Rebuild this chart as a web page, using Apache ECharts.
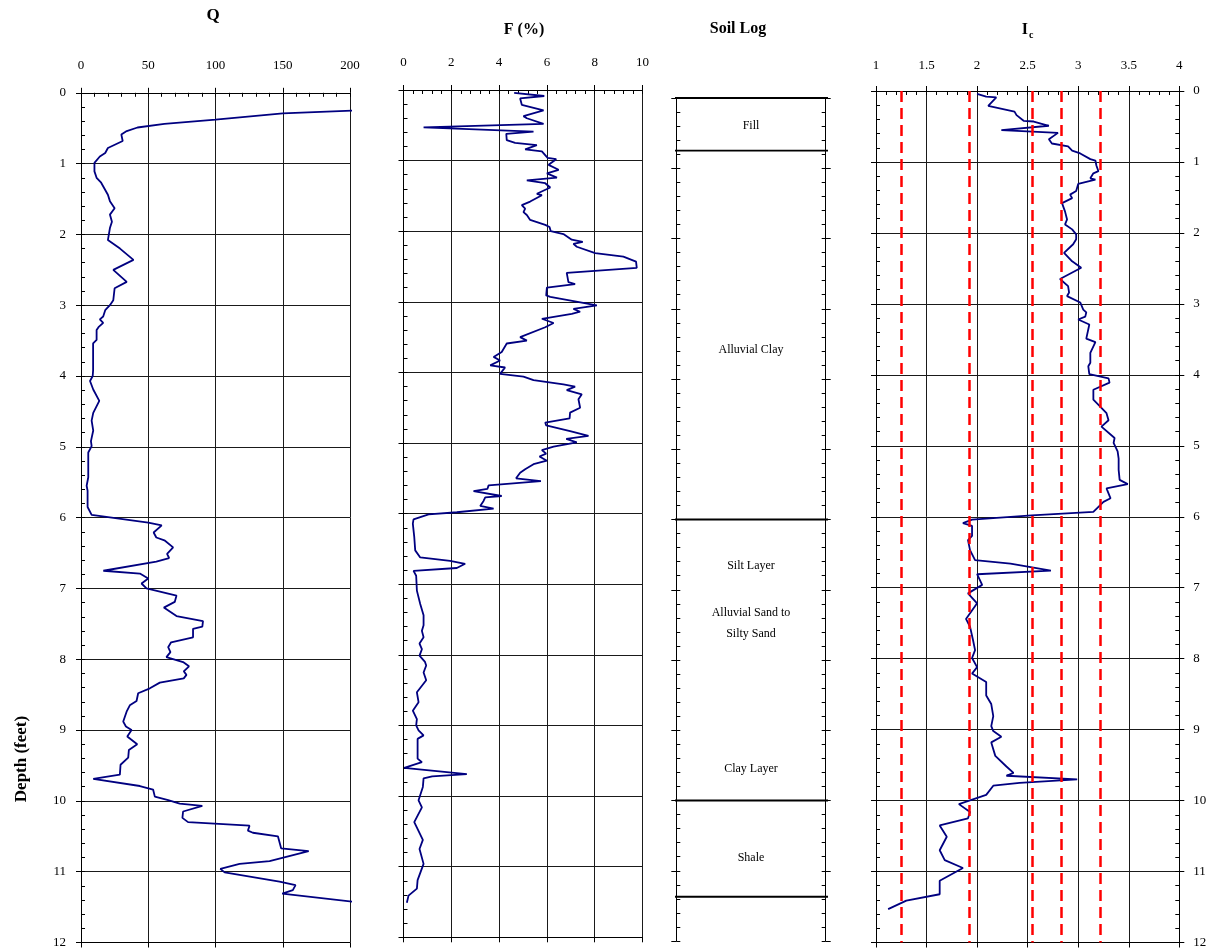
<!DOCTYPE html>
<html><head><meta charset="utf-8">
<script src="https://cdn.jsdelivr.net/npm/echarts@6/dist/echarts.min.js"></script>
<style>html,body{margin:0;padding:0;background:#fff}#c{width:1225px;height:951px}</style>
</head><body><div id="c"></div>
<script>
// ---------- DATA ----------
// Q profile: [depth (ft), Q]
const qProfile = [
[0.25,205],[0.29,150],[0.38,100],[0.44,62],[0.49,42],[0.54,34],[0.59,30],[0.68,31],[0.78,20],[0.85,18],
[0.90,14],[0.99,10],[1.11,10],[1.20,11.6],[1.27,15],[1.44,20],[1.53,21.5],[1.63,25],[1.72,21.5],[1.82,23],
[1.91,21.5],[2.08,20],[2.20,29],[2.36,39],[2.50,24],[2.67,34],[2.76,25],[2.93,24],[3.00,21.5],[3.07,18],
[3.16,16.5],[3.20,14],[3.25,16.5],[3.31,13],[3.35,11.6],[3.49,11.6],[3.54,9],[3.83,9],[3.85,8],[3.92,9],
[4.00,8.7],[4.07,6.7],[4.19,9.1],[4.35,13.6],[4.52,9.1],[4.63,7.9],[4.77,9.1],[4.92,7.4],[4.99,7.9],[5.08,5.4],
[5.43,5.4],[5.55,4.2],[5.62,4.9],[5.85,4.9],[5.96,7.9],[6.07,50],[6.11,60],[6.21,54],[6.28,56],[6.32,62],
[6.42,68.5],[6.51,64],[6.57,65.5],[6.62,56],[6.75,16.6],[6.79,43.8],[6.86,50],[6.93,45],[7.00,48.7],[7.10,71],
[7.19,69.7],[7.27,61.6],[7.39,71],[7.46,90.7],[7.54,90.2],[7.57,83.3],[7.69,83.3],[7.76,67],[7.83,64.8],[7.90,66.5],
[7.97,63.5],[8.04,75.9],[8.10,80.3],[8.17,76.4],[8.22,78.4],[8.27,76.4],[8.33,58.6],[8.41,51.2],[8.48,42.5],[8.59,41.3],
[8.65,36.3],[8.74,33.9],[8.88,31.4],[8.95,33.4],[9.00,37.6],[9.09,34.4],[9.20,41.8],[9.28,35.6],[9.39,35.1],[9.49,29.4],
[9.63,28.9],[9.69,9.1],[9.79,43.8],[9.84,53.6],[9.94,54.9],[9.99,64.8],[10.04,73.4],[10.07,90.2],[10.15,75.9],[10.24,75.4],
[10.30,79.6],[10.35,125.3],[10.42,124.1],[10.45,127.8],[10.50,146.4],[10.67,148.8],[10.71,169.3],[10.85,140.2],[10.89,117.9],[10.96,103.6],
[11.01,106.8],[11.14,147.6],[11.19,159.5],[11.26,157.5],[11.31,149.6],[11.43,205.2]
];
// F (%) profile: [depth (ft), F]
const fProfile = [
[0.04,4.63],[0.085,5.89],[0.12,4.88],[0.21,4.95],[0.29,5.86],[0.37,5.02],[0.40,5.16],[0.48,5.86],[0.53,0.84],[0.59,5.44],
[0.62,4.30],[0.71,4.32],[0.75,4.67],[0.78,5.58],[0.84,5.09],[0.87,5.79],[0.96,6.03],[0.98,6.39],[1.06,6.07],[1.13,6.49],
[1.18,6.0],[1.24,6.42],[1.28,5.16],[1.32,5.93],[1.38,6.14],[1.47,5.58],[1.49,5.79],[1.58,5.3],[1.63,4.95],[1.68,5.09],
[1.73,5.02],[1.77,5.16],[1.84,5.3],[1.91,5.93],[1.94,6.11],[2.00,6.16],[2.04,6.69],[2.12,7.04],[2.15,7.5],[2.18,7.11],
[2.22,7.25],[2.31,8.02],[2.36,9.2],[2.43,9.73],[2.52,9.76],[2.59,6.83],[2.72,6.9],[2.75,7.18],[2.80,6.0],[2.91,5.97],
[2.93,6.14],[3.05,8.09],[3.10,7.11],[3.14,7.39],[3.17,7.04],[3.24,5.79],[3.30,6.28],[3.36,5.93],[3.50,4.88],[3.55,5.16],
[3.59,4.32],[3.71,4.11],[3.78,3.77],[3.83,4.04],[3.90,3.63],[3.93,4.25],[4.02,4.04],[4.06,5.02],[4.11,5.44],[4.17,6.69],
[4.20,7.18],[4.25,6.83],[4.31,7.46],[4.38,7.32],[4.50,7.39],[4.57,6.97],[4.65,6.95],[4.71,5.93],[4.75,5.97],[4.83,6.97],
[4.90,7.74],[4.94,6.81],[4.99,7.25],[5.05,6.28],[5.10,5.79],[5.15,5.97],[5.19,5.69],[5.25,6.0],[5.30,5.44],[5.37,5.09],
[5.42,4.88],[5.50,4.71],[5.54,5.75],[5.60,3.56],[5.65,3.51],[5.68,2.93],[5.75,4.11],[5.77,3.42],[5.82,3.35],[5.89,3.21],
[5.93,3.77],[5.98,2.23],[6.01,1.05],[6.08,0.42],[6.14,0.39],[6.33,0.45],[6.52,0.49],[6.62,0.70],[6.67,1.95],[6.71,2.58],
[6.77,2.23],[6.81,0.42],[6.88,0.53],[7.09,0.56],[7.28,0.70],[7.44,0.84],[7.58,0.84],[7.66,0.77],[7.75,0.84],[7.84,0.67],
[7.92,0.77],[8.01,0.67],[8.10,0.90],[8.15,0.95],[8.25,0.84],[8.36,0.95],[8.53,0.56],[8.67,0.63],[8.79,0.39],[8.91,0.56],
[9.00,0.53],[9.07,0.63],[9.14,0.84],[9.19,0.59],[9.47,0.59],[9.52,0.77],[9.60,0.03],[9.69,2.65],[9.72,1.2],[9.75,0.84],
[9.87,0.81],[10.06,0.63],[10.16,0.77],[10.37,0.45],[10.62,0.81],[10.75,0.67],[10.96,0.84],[11.19,0.59],[11.31,0.56],[11.41,0.21],
[11.51,0.14]
];
// Ic profile: [depth (ft), Ic]
const icProfile = [
[0.04,2.0],[0.08,2.09],[0.09,2.19],[0.21,2.11],[0.29,2.37],[0.34,2.39],[0.42,2.46],[0.43,2.56],[0.49,2.71],[0.55,2.24],
[0.59,2.80],[0.68,2.71],[0.74,2.74],[0.78,2.90],[0.84,2.94],[0.88,3.02],[0.96,3.12],[0.98,3.17],[1.05,3.18],[1.13,3.20],
[1.16,3.15],[1.23,3.12],[1.25,3.17],[1.31,3.00],[1.41,2.98],[1.46,2.92],[1.51,2.94],[1.58,2.84],[1.70,2.87],[1.81,2.89],
[1.88,2.87],[1.95,2.94],[2.02,2.98],[2.09,2.98],[2.16,2.95],[2.28,2.86],[2.40,2.94],[2.49,3.03],[2.65,2.82],[2.75,2.90],
[2.84,2.91],[2.89,2.89],[2.98,3.02],[3.08,3.05],[3.12,3.08],[3.18,3.07],[3.22,3.00],[3.29,3.11],[3.49,3.08],[3.54,3.17],
[3.69,3.12],[3.83,3.12],[3.88,3.10],[3.99,3.11],[4.05,3.30],[4.11,3.31],[4.21,3.15],[4.35,3.15],[4.45,3.22],[4.54,3.28],
[4.64,3.30],[4.73,3.23],[4.89,3.36],[4.96,3.35],[5.08,3.39],[5.18,3.40],[5.34,3.40],[5.48,3.41],[5.54,3.49],[5.60,3.28],
[5.74,3.32],[5.79,3.25],[5.93,3.15],[5.98,2.54],[6.04,1.95],[6.09,1.86],[6.13,1.95],[6.27,1.95],[6.33,1.91],[6.47,1.93],
[6.61,1.98],[6.66,2.33],[6.76,2.73],[6.81,2.00],[6.96,2.05],[7.08,1.91],[7.22,2.00],[7.44,1.89],[7.55,1.93],[7.74,1.96],
[7.88,1.98],[7.99,1.95],[8.12,2.00],[8.21,1.95],[8.33,2.09],[8.52,2.09],[8.64,2.14],[8.81,2.16],[8.95,2.14],[9.02,2.16],
[9.10,2.24],[9.18,2.14],[9.37,2.18],[9.52,2.29],[9.61,2.36],[9.65,2.29],[9.70,2.99],[9.75,2.42],[9.79,2.16],[9.92,2.09],
[10.05,1.82],[10.16,1.93],[10.25,1.91],[10.35,1.63],[10.51,1.70],[10.70,1.63],[10.84,1.68],[10.95,1.86],[11.13,1.63],[11.32,1.63],
[11.41,1.30],[11.53,1.12]
];
// Ic soil-behaviour boundaries (red dashed lines)
const icBoundaries = [1.25, 1.92, 2.55, 2.83, 3.22];
// Soil log
const layerBoundaries = [0, 0.75, 6.0, 10.0, 11.37];
const layerNames = ['Fill', 'Alluvial Clay', 'Silt Layer', 'Alluvial Sand to\nSilty Sand', 'Clay Layer', 'Shale'];
const layerLabelDepths = [0.40, 3.59, 6.66, 7.48, 9.55, 10.82];
// Axis ranges / tick labels
const depthRange = [0, 12, 1];
const qRange = [0, 200, 50];
const fRange = [0, 10, 2];
const icRange = [1, 4, 0.5];

// ---------- CHART ----------
const FONT = '"Liberation Serif", "Times New Roman", serif';
const INK = '#000';
const GRID_LINE = '#1a1a1a';

const grids = [
  { left: 81, top: 92.8, width: 269, height: 849.7 },     // Q
  { left: 403.5, top: 90, width: 239, height: 847.3 },    // F
  { left: 676.3, top: 98, width: 149.4, height: 843 },    // Soil log
  { left: 876, top: 91, width: 303.3, height: 851.5 }     // Ic
];

const xAxes = [], yAxes = [];
function addX(a) { xAxes.push(a); return xAxes.length - 1; }
function addY(a) { yAxes.push(a); return yAxes.length - 1; }

function topAxes(gridIndex, range, minorSplit, labelMargin) {
  const [min, max, interval] = range;
  const main = addX({ gridIndex, type: 'value', position: 'top', min, max, interval,
    axisLine: { show: true, onZero: false, lineStyle: { color: INK, width: 1 } },
    axisTick: { show: true, inside: false, length: 5, lineStyle: { color: INK } },
    axisLabel: { show: true, margin: labelMargin, color: INK, fontFamily: FONT, fontSize: 13 },
    splitLine: { show: true, lineStyle: { color: GRID_LINE, width: 1 } } });
  addX({ gridIndex, type: 'value', position: 'top', min, max, interval,
    axisLine: { show: false, onZero: false },
    axisTick: { show: true, inside: true, length: 4, lineStyle: { color: INK } },
    minorTick: { show: true, splitNumber: minorSplit, length: 4, lineStyle: { color: INK } },
    axisLabel: { show: false }, splitLine: { show: false } });
  addX({ gridIndex, type: 'value', position: 'bottom', min, max, interval,
    axisLine: { show: true, onZero: false, lineStyle: { color: INK } },
    axisTick: { show: true, inside: false, length: 5, lineStyle: { color: INK } },
    axisLabel: { show: false }, splitLine: { show: false } });
  return main;
}
function sideYAxes(gridIndex, position, showLabels, labelMargin, withSplit) {
  const [min, max, interval] = depthRange;
  const main = addY({ gridIndex, type: 'value', inverse: true, position, min, max, interval,
    axisLine: { show: true, onZero: false, lineStyle: { color: INK } },
    axisTick: { show: true, inside: false, length: 5, lineStyle: { color: INK } },
    axisLabel: { show: showLabels, margin: labelMargin, color: INK, fontFamily: FONT, fontSize: 13 },
    splitLine: { show: withSplit, lineStyle: { color: GRID_LINE, width: 1 } } });
  addY({ gridIndex, type: 'value', inverse: true, position, min, max, interval,
    axisLine: { show: false, onZero: false },
    axisTick: { show: true, inside: true, length: 4, lineStyle: { color: INK } },
    minorTick: { show: true, splitNumber: 5, length: 4, lineStyle: { color: INK } },
    axisLabel: { show: false }, splitLine: { show: false } });
  return main;
}

// Q panel
const qx = topAxes(0, qRange, 5, 21);
const qy = sideYAxes(0, 'left', true, 15, true);
// F panel
const fx = topAxes(1, fRange, 5, 21);
const fy = sideYAxes(1, 'left', false, 0, true);
// Soil log panel
const sx = addX({ gridIndex: 2, type: 'value', min: 0, max: 1, show: false });
const sy = sideYAxes(2, 'left', false, 0, false);
sideYAxes(2, 'right', false, 0, false);
// Ic panel
const ix = topAxes(3, icRange, 5, 19);
const iy = sideYAxes(3, 'left', false, 0, true);
sideYAxes(3, 'right', true, 14, false);

const curveStyle = { color: '#000080', width: 1.8 };
const series = [
  { type: 'line', xAxisIndex: qx, yAxisIndex: qy, data: qProfile.map(([d, v]) => [v, d]),
    showSymbol: false, symbol: 'none', clip: false, lineStyle: curveStyle, itemStyle: { color: '#000080' }, silent: true },
  { type: 'line', xAxisIndex: fx, yAxisIndex: fy, data: fProfile.map(([d, v]) => [v, d]),
    showSymbol: false, symbol: 'none', clip: false, lineStyle: curveStyle, itemStyle: { color: '#000080' }, silent: true },
  { type: 'line', xAxisIndex: ix, yAxisIndex: iy, data: icProfile.map(([d, v]) => [v, d]),
    showSymbol: false, symbol: 'none', clip: false, lineStyle: curveStyle, itemStyle: { color: '#000080' }, silent: true, z: 3,
    markLine: { silent: true, symbol: ['none', 'none'], label: { show: false }, animation: false,
      lineStyle: { color: '#ff0000', width: 2.5, type: [11, 6] },
      data: icBoundaries.map(v => ({ xAxis: v })) } }
];
layerBoundaries.forEach(d => {
  series.push({ type: 'line', xAxisIndex: sx, yAxisIndex: sy, data: [[-0.04, d], [1.04, d]],
    symbol: 'none', clip: false, silent: true, lineStyle: { color: INK, width: 1.8 } });
});
series.push({ type: 'scatter', xAxisIndex: sx, yAxisIndex: sy, symbolSize: 0.1, silent: true,
  itemStyle: { color: 'rgba(0,0,0,0)' },
  data: layerLabelDepths.map((d, i) => ({ value: [0.5, d], name: layerNames[i] })),
  label: { show: true, position: 'inside', formatter: '{b}', color: '#000', opacity: 1, textBorderWidth: 0,
    fontFamily: FONT, fontSize: 12, lineHeight: 21, align: 'center' } });

const titleFont = 'bold 17px ' + FONT;
const option = {
  animation: false,
  backgroundColor: '#fff',
  grid: grids,
  xAxis: xAxes,
  yAxis: yAxes,
  series,
  graphic: [
    { type: 'text', x: 213, y: 16, style: { text: 'Q', font: titleFont, fill: INK, textAlign: 'center', textVerticalAlign: 'middle' } },
    { type: 'text', x: 524, y: 30, style: { text: 'F (%)', font: 'bold 16px ' + FONT, fill: INK, textAlign: 'center', textVerticalAlign: 'middle' } },
    { type: 'text', x: 738, y: 29, style: { text: 'Soil Log', font: 'bold 16px ' + FONT, fill: INK, textAlign: 'center', textVerticalAlign: 'middle' } },
    { type: 'text', x: 1028, y: 30, style: { text: 'I', font: 'bold 16px ' + FONT, fill: INK, textAlign: 'right', textVerticalAlign: 'middle' } },
    { type: 'text', x: 1029, y: 35, style: { text: 'c', font: 'bold 10px ' + FONT, fill: INK, textAlign: 'left', textVerticalAlign: 'middle' } },
    { type: 'text', x: 22, y: 759, rotation: Math.PI / 2, style: { text: 'Depth (feet)', font: 'bold 17px ' + FONT, fill: INK, textAlign: 'center', textVerticalAlign: 'middle' } }
  ]
};
const chart = echarts.init(document.getElementById('c'), null, { renderer: 'canvas' });
chart.setOption(option);
</script>
</body></html>
